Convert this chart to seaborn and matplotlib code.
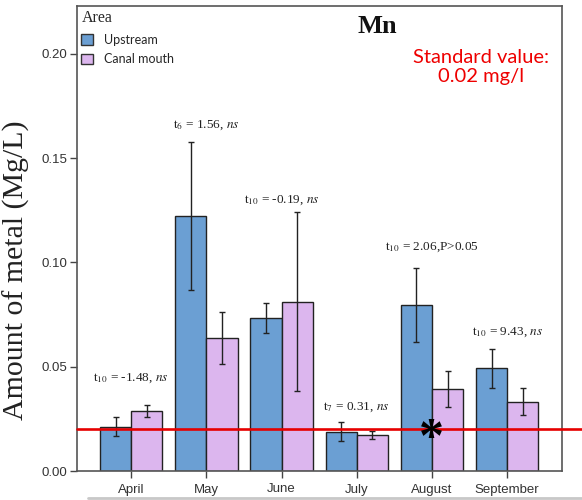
import matplotlib
matplotlib.use("Agg")
import matplotlib.pyplot as plt
import seaborn as sns
import pandas as pd
from matplotlib.patches import Patch
from matplotlib.lines import Line2D

# ---- data ----
months = ["April", "May", "June", "July", "August", "September"]
areas = ["Upstream", "Canal mouth"]
upstream_mean = [0.0213, 0.1222, 0.0732, 0.0189, 0.0796, 0.0493]
upstream_err = [0.0044, 0.0355, 0.0072, 0.0045, 0.0179, 0.0094]
canal_mean = [0.0288, 0.0638, 0.0812, 0.0173, 0.0392, 0.0332]
canal_err = [0.0027, 0.0123, 0.0429, 0.0020, 0.0086, 0.0064]
t_labels = [
    "t$_{10}$ = -1.48, $\\mathit{ns}$",
    "t$_{6}$ = 1.56, $\\mathit{ns}$",
    "t$_{10}$ = -0.19, $\\mathit{ns}$",
    "t$_{7}$ = 0.31, $\\mathit{ns}$",
    "t$_{10}$ = 2.06,P>0.05",
    "t$_{10}$ = 9.43, $\\mathit{ns}$",
]
label_y = [0.0446, 0.166, 0.130, 0.0307, 0.1074, 0.0667]
standard_value = 0.02
yticks = [0.00, 0.05, 0.10, 0.15, 0.20]

colors = ["#6b9fd3", "#dcb6ee"]

df = pd.DataFrame({
    "month": months * 2,
    "area": [areas[0]] * len(months) + [areas[1]] * len(months),
    "value": upstream_mean + canal_mean,
})
errs = {areas[0]: upstream_err, areas[1]: canal_err}

sns.set_theme(style="ticks")
plt.rcParams["font.family"] = ["Liberation Sans", "DejaVu Sans"]
plt.rcParams["mathtext.fontset"] = "stix"

fig = plt.figure(figsize=(5.82, 5.00), dpi=100)
ax = fig.add_axes([77 / 582, 1 - 471 / 500, (562 - 77) / 582, (471 - 6) / 500])

sns.barplot(data=df, x="month", y="value", hue="area", order=months,
            hue_order=areas, palette=colors, edgecolor="#222222",
            linewidth=1.0, errorbar=None, width=0.83, saturation=1,
            ax=ax, legend=False)

for cont, area in zip(ax.containers, areas):
    xs = [p.get_x() + p.get_width() / 2 for p in cont]
    hs = [p.get_height() for p in cont]
    ax.errorbar(xs, hs, yerr=errs[area], fmt="none", ecolor="#222222",
                elinewidth=1.0, capsize=2.5, capthick=1.0, zorder=5)

ax.set_xlim(-0.72, 5.73)
ax.set_ylim(0, 0.223)
ax.set_yticks(yticks)
ax.set_yticklabels([f"{v:.2f}" for v in yticks])
ax.tick_params(axis="both", labelsize=9.5, length=5, width=1.0,
               color="#444444", labelcolor="#333333", pad=2)
ax.tick_params(axis="x", pad=4)
ax.set_xlabel("")
ax.set_ylabel("Amount of metal (Mg/L)", fontsize=21.5,
              fontfamily="Liberation Serif", color="#222222")
ax.yaxis.set_label_coords(-0.096, 0.432)
for sp in ax.spines.values():
    sp.set_visible(True)
    sp.set_color("#555555")
    sp.set_linewidth(1.2)

# standard line
ax.axhline(standard_value, xmin=0, xmax=(582 - 77) / (562 - 77),
           color="#e60000", linewidth=1.9, clip_on=False, zorder=6)

# annotations
for i, (lab, y) in enumerate(zip(t_labels, label_y)):
    ax.text(i, y, lab, ha="center", va="center", fontsize=9.5,
            fontfamily="Liberation Serif", color="#222222")

ax.text(4, 0.0150, "*", ha="center", va="center", fontsize=36,
        fontweight="bold", fontfamily="Liberation Serif", color="black",
        zorder=7)

ax.text(0.62, 0.955, "Mn", transform=ax.transAxes, ha="center", va="center",
        fontsize=19, fontweight="bold", fontfamily="Liberation Serif",
        color="#111111")
ax.text(0.833, 0.868, "Standard value:\n0.02 mg/l", transform=ax.transAxes,
        ha="center", va="center", fontsize=14.5, fontfamily="Lato",
        color="#ee0000", linespacing=1.15)

handles = [Patch(facecolor=c, edgecolor="#333333", linewidth=1.0) for c in colors]
leg = ax.legend(handles, areas, title="Area", loc="upper left",
                bbox_to_anchor=(0.0, 1.0), frameon=False,
                handlelength=0.95, handleheight=0.95, handletextpad=0.85,
                labelspacing=0.6, borderaxespad=0.2, borderpad=0.15,
                prop={"family": "Lato", "size": 9},
                alignment="left")
leg.get_title().set_fontfamily("Liberation Serif")
leg.get_title().set_fontsize(11.5)

# light grey edge line at the bottom of the picture
fig.add_artist(Line2D([88 / 582, 1.0], [1 - 498 / 500] * 2,
                      transform=fig.transFigure, color="#c8c8c8",
                      linewidth=2.0))

fig.savefig("out.png", dpi=100)
